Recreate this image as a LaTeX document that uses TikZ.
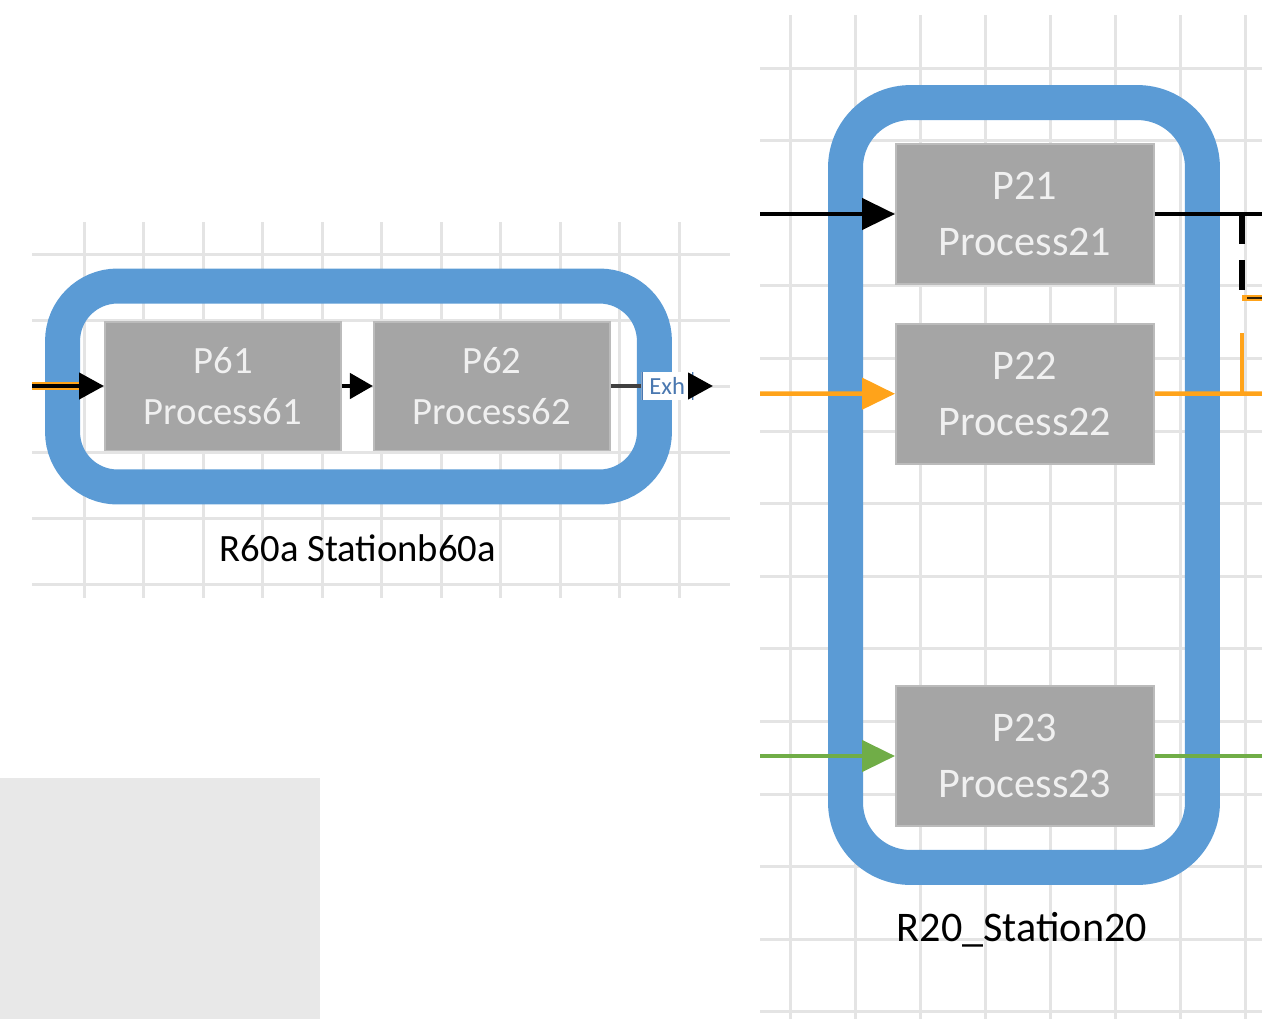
\documentclass[tikz,border=0pt]{standalone}
\usepackage{fontspec}
\setmainfont{Carlito}
\usetikzlibrary{positioning,arrows.meta}
\definecolor{ringblue}{HTML}{5B9BD5}
\definecolor{procgray}{HTML}{A5A5A5}
\definecolor{gridgray}{HTML}{E4E4E4}
\definecolor{padgray}{HTML}{E8E8E8}
\definecolor{floworange}{HTML}{FFA31A}
\definecolor{flowgreen}{HTML}{70AD47}
\definecolor{exhblue}{HTML}{4A78B0}

\begin{document}
\begin{tikzpicture}[x=0.02cm,y=-0.02cm,node distance=0.62cm,
	gridline/.style={draw=gridgray,line width=0.06cm},
	station/.style={draw=ringblue,line width=0.7cm,rounded corners=1.1cm,inner sep=0pt},
	proc/.style={fill=procgray,draw=procgray!75!white,line width=0.04cm,text=white!94!black,align=center,inner sep=0pt},
	procsmall/.style={proc,minimum width=4.72cm,minimum height=2.58cm,font=\fontsize{22}{29}\selectfont},
	procbig/.style={proc,minimum width=5.16cm,minimum height=2.8cm,font=\fontsize{24}{32}\selectfont},
	flow/.style={line width=0.09cm},
	tipsmall/.style={-{Triangle[length=0.5cm,width=0.52cm]}},
	tipbig/.style={-{Triangle[length=0.66cm,width=0.62cm]}},
	exh/.style={fill=white,inner sep=0pt,minimum width=1.04cm,minimum height=0.56cm,text=exhblue,font=\fontsize{14}{14}\selectfont,
		path picture={\draw[exhblue,line width=0.05cm] (path picture bounding box.north west) -- (path picture bounding box.south west)
			(path picture bounding box.north east) -- (path picture bounding box.south east);}},
	stlabel/.style={text=black}]
	\useasboundingbox (0,0) rectangle (1262,1019);
	% grids
	\foreach \k in {0,...,5} \draw[gridline] (32,254+66*\k) -- (730,254+66*\k);
	\foreach \k in {0,...,10} \draw[gridline] (84+59.5*\k,222) -- (84+59.5*\k,598);
	\foreach \k in {0,...,13} \draw[gridline] (760,68+72.6*\k) -- (1262,68+72.6*\k);
	\foreach \k in {0,...,7} \draw[gridline] (790+65*\k,15) -- (790+65*\k,1019);
	\fill[padgray] (0,778) rectangle (320,1019);

	% station 60a
	\node[station,minimum width=11.84cm,minimum height=4.02cm] (st60) at (358.5,386.5) {};
	\node[procsmall] (P61) at (223,386) {P61\\Process61};
	\node[procsmall,right=of P61] (P62) {P62\\Process62};
	\node[exh,right=0.6cm of P62] (exh) {Exh};
	\node[stlabel,font=\fontsize{22}{26}\selectfont] (lab60) at (358,548) {R60a Stationb60a};
	\coordinate (in61) at (32,386);
	\coordinate (out62) at (713,386);
	\draw[floworange,line width=0.15cm] (in61) -- ([xshift=-0.5cm]P61.west);
	\draw[flow] (in61) edge[tipsmall] (P61)
		(P61) edge[-{Triangle[length=0.46cm,width=0.5cm]}] (P62)
		(P62) edge[black!75] (exh)
		(exh) edge[tipsmall] (out62);

	% station 20
	\node[station,minimum width=7.14cm,minimum height=15.3cm,rounded corners=1.3cm] (st20) at (1024,485) {};
	\node[procbig] (P21) at (1025,214) {P21\\Process21};
	\node[procbig,below=0.76cm of P21] (P22) {P22\\Process22};
	\node[procbig] (P23) at (1025,756) {P23\\Process23};
	\node[stlabel,font=\fontsize{24}{28}\selectfont] (lab20) at (1022,930) {R20\_Station20};
	\coordinate (in21) at (760,214);
	\coordinate (out21) at (1262,214);
	\coordinate (in22) at (760,393.5);
	\coordinate (out22) at (1262,393.5);
	\coordinate (in23) at (760,756);
	\coordinate (out23) at (1262,756);
	\coordinate (j1) at (1242,214);
	\coordinate (j2) at (1242,298);
	\coordinate (j2e) at (1262,298);
	\coordinate (j3) at (1242,333);
	\draw[flow] (in21) edge[tipbig] (P21)
		(P21) edge (out21);
	\draw[line width=0.11cm,dash pattern=on 0.6cm off 0.32cm] (j1) -- (j2);
	\draw[floworange,line width=0.12cm] (j2) -- (j2e);
	\draw[line width=0.05cm,black!80!floworange] ([xshift=0.1cm]j2) -- (j2e);
	\draw[flow,floworange] (in22) edge[tipbig] (P22)
		(P22) edge (out22)
		(j3) edge (j3 |- out22);
	\draw[flow,flowgreen] (in23) edge[tipbig] (P23)
		(P23) edge (out23);
\end{tikzpicture}
\end{document}
